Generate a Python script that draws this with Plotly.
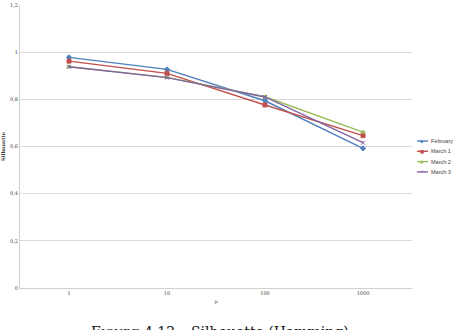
import plotly.graph_objects as go

categories = ["1", "10", "100", "1000"]
february = [0.978, 0.927, 0.794, 0.592]
march1 = [0.962, 0.910, 0.776, 0.646]
march2 = [0.938, 0.893, 0.811, 0.661]
march3 = [0.938, 0.892, 0.810, 0.616]
ytick_vals = [0, 0.2, 0.4, 0.6, 0.8, 1.0, 1.2]
ytick_text = ["0", "0,2", "0,4", "0,6", "0,8", "1", "1,2"]

series = [
    ("February", february, "#4F81BD", "diamond", "◆"),
    ("March 1", march1, "#C0504D", "square", "■"),
    ("March 2", march2, "#9BBB59", "triangle-up", "▲"),
    ("March 3", march3, "#8064A2", "x-thin", "×"),
]

fig = go.Figure()
for name, vals, color, sym, glyph in series:
    fig.add_trace(go.Scatter(
        x=categories, y=vals, name=name, mode="lines+markers",
        line=dict(color=color, width=1.4),
        marker=dict(symbol=sym, size=4, color=color, line=dict(color=color, width=1)),
        showlegend=False,
    ))

# manual compact legend in the right margin
W, H = 457, 330
L, R, T, B = 20, 45, 5, 42
pw, ph = W - L - R, H - T - B
def px(x):
    return (x - L) / pw
def py(y):
    return (H - B - y) / ph

for i, (name, vals, color, sym, glyph) in enumerate(series):
    yy = 141 + i * 10.3
    fig.add_shape(type="line", xref="paper", yref="paper",
                  x0=px(417), x1=px(428), y0=py(yy), y1=py(yy),
                  line=dict(color=color, width=1.4))
    fig.add_annotation(text=glyph, xref="paper", yref="paper", x=px(422.5), y=py(yy),
                       xanchor="center", yanchor="middle", showarrow=False,
                       font=dict(family="DejaVu Sans", size=4.5, color=color))
    fig.add_annotation(text=name, xref="paper", yref="paper", x=px(429), y=py(yy),
                       xanchor="left", yanchor="middle", showarrow=False,
                       font=dict(family="Liberation Sans", size=5.5, color="#404040"))

fig.update_layout(
    width=W, height=H,
    margin=dict(l=L, r=R, t=T, b=B, autoexpand=False),
    plot_bgcolor="white", paper_bgcolor="white",
    font=dict(family="DejaVu Serif", size=5, color="#404040"),
    showlegend=False,
    xaxis=dict(type="category", range=[-0.5, 3.5], showgrid=False,
               showline=True, linecolor="#d0d0d0", linewidth=1,
               ticks="", tickfont=dict(size=5),
               title=dict(text="μ", font=dict(size=5, color="#404040"), standoff=4)),
    yaxis=dict(range=[0, 1.2], tickvals=ytick_vals, ticktext=ytick_text,
               showgrid=True, gridcolor="#d9d9d9", gridwidth=1,
               showline=True, linecolor="#d0d0d0", linewidth=1,
               zeroline=False, ticks="", tickfont=dict(size=5),
               title=dict(text="<b>Silhouette</b>", font=dict(size=5, color="#404040"), standoff=4)),
)

fig.add_annotation(
    text="F<span style='font-size:11px'>IGURE</span> 4.12 – Silhouette (Hamming)",
    xref="paper", yref="paper", x=px(220), y=py(322), xanchor="center", yanchor="top",
    showarrow=False, font=dict(family="DejaVu Serif", size=14, color="#111"),
)

fig.write_html("out.html")
